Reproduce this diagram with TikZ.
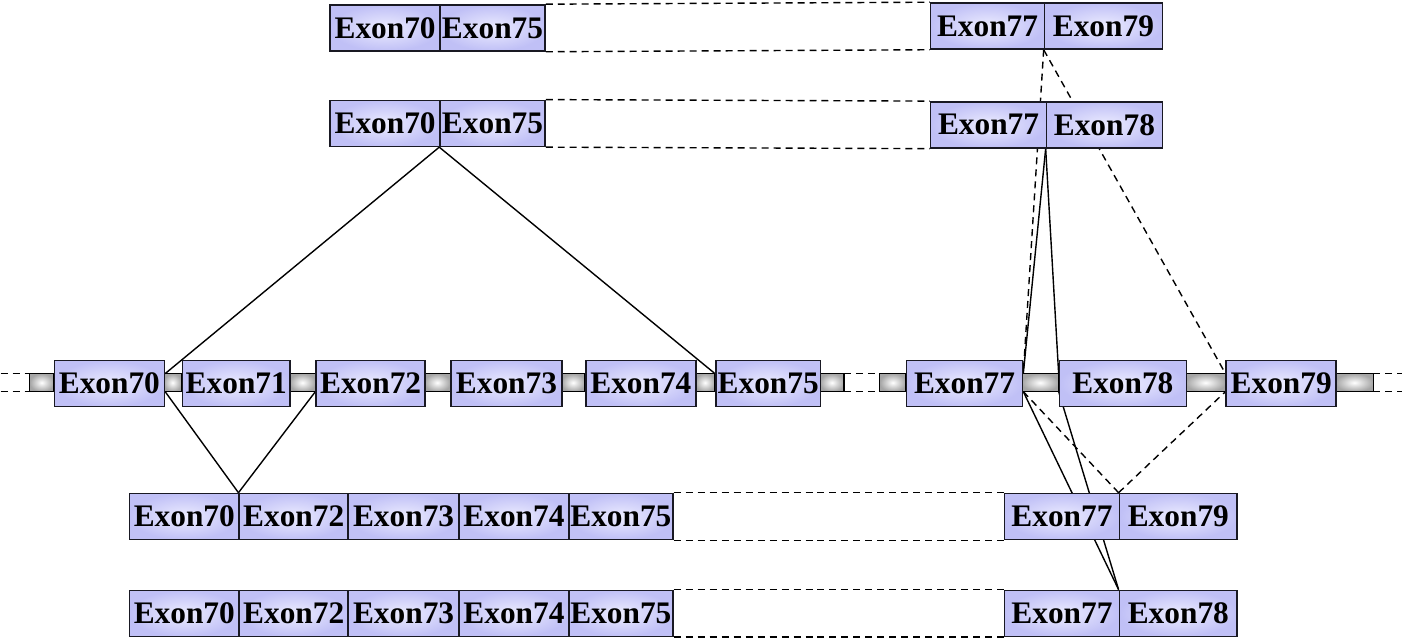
\documentclass[tikz,border=0pt]{standalone}
\usepackage{fontspec}
\setmainfont{Liberation Serif}
\usetikzlibrary{calc}
\definecolor{exonin}{RGB}{236,236,255}
\definecolor{exonout}{RGB}{192,192,246}
\definecolor{exonline}{RGB}{25,25,35}
\definecolor{barout}{RGB}{165,165,165}
\pgfdeclarelayer{strand}
\pgfdeclarelayer{links}
\pgfsetlayers{strand,links,main}
\tikzset{
  exon/.style={draw=exonline, line width=1.6bp, shade, inner color=exonin, outer color=exonout,
    minimum height=46bp, inner sep=0pt, anchor=west,
    font=\fontsize{31.5}{34}\selectfont\bfseries},
  barseg/.style={draw=black, line width=1.3bp, shade, inner color=white, outer color=barout},
  link/.style={draw=black, line width=1.4bp},
  dlink/.style={draw=black, line width=1.4bp, dash pattern=on 7bp off 5bp},
}
\begin{document}
\begin{tikzpicture}[x=1bp, y=-1bp]
\begin{pgfonlayer}{strand}
\useasboundingbox (0,0) rectangle (1403,641);
\fill[white] (0,0) rectangle (1403,641);
% intron bar segments between the exons
\foreach \a/\b in {29/53,163/181,289/315,424/450,561/585,695/715,820/844,
                   880/906,1022/1059,1186/1226,1336/1374}
  \path[barseg] (\a,374) rectangle (\b,392);
\end{pgfonlayer}

% bar edge levels
\coordinate (barT) at (0,374);
\coordinate (barB) at (0,392);

% open ends of the gene strands
\coordinate (l1) at (0,374);   \coordinate (l2) at (29,374);
\coordinate (l3) at (0,392);   \coordinate (l4) at (29,392);
\coordinate (m1) at (844,374); \coordinate (m2) at (880,374);
\coordinate (m3) at (844,392); \coordinate (m4) at (880,392);
\coordinate (r1) at (1374,374);\coordinate (r2) at (1403,374);
\coordinate (r3) at (1374,392);\coordinate (r4) at (1403,392);
\draw[dlink] (l1) -- (l2) (l3) -- (l4) (m1) -- (m2) (m3) -- (m4) (r1) -- (r2) (r3) -- (r4);

% gene row exons
\path
  node[exon, minimum width=110bp] (g70) at (53,384)   {Exon70}
  node[exon, minimum width=108bp] (g71) at (181,384)  {Exon71}
  node[exon, minimum width=109bp] (g72) at (315,384)  {Exon72}
  node[exon, minimum width=111bp] (g73) at (450,384)  {Exon73}
  node[exon, minimum width=110bp] (g74) at (585,384)  {Exon74}
  node[exon, minimum width=105bp] (g75) at (715,384)  {Exon75}
  node[exon, minimum width=116bp] (g77) at (906,384)  {Exon77}
  node[exon, minimum width=127bp] (g78) at (1059,384) {Exon78}
  node[exon, minimum width=110bp] (g79) at (1226,384) {Exon79};

% transcript rows
\path
  node[exon, minimum width=110bp] (a70) at (329,28)  {Exon70}
  node[exon, minimum width=105bp] (a75) at (439,28)  {Exon75}
  node[exon, minimum width=114bp] (b77) at (930,26)  {Exon77}
  node[exon, minimum width=118bp] (b79) at (1044,26) {Exon79}
  node[exon, minimum width=110bp] (c70) at (329,123.5) {Exon70}
  node[exon, minimum width=105bp] (c75) at (439,123.5) {Exon75}
  node[exon, minimum width=116bp] (d77) at (930,125) {Exon77}
  node[exon, minimum width=116bp] (d78) at (1046,125) {Exon78}
  node[exon, minimum width=110bp] (e70) at (128,517) {Exon70}
  node[exon, minimum width=109bp] (e72) at (238,517) {Exon72}
  node[exon, minimum width=111bp] (e73) at (347,517) {Exon73}
  node[exon, minimum width=110bp] (e74) at (458,517) {Exon74}
  node[exon, minimum width=104bp] (e75) at (568,517) {Exon75}
  node[exon, minimum width=115bp] (f77) at (1004,517) {Exon77}
  node[exon, minimum width=118bp] (f79) at (1119,517) {Exon79}
  node[exon, minimum width=110bp] (h70) at (128,614) {Exon70}
  node[exon, minimum width=109bp] (h72) at (238,614) {Exon72}
  node[exon, minimum width=111bp] (h73) at (347,614) {Exon73}
  node[exon, minimum width=110bp] (h74) at (458,614) {Exon74}
  node[exon, minimum width=104bp] (h75) at (568,614) {Exon75}
  node[exon, minimum width=115bp] (k77) at (1004,614) {Exon77}
  node[exon, minimum width=118bp] (k78) at (1119,614) {Exon78};

% splice connectors and continuation lines, behind the exon boxes
\begin{pgfonlayer}{links}
  % exon junctions of each transcript, tied to the gene strand
  \draw[link] (c75.south west) -- (g70.east |- barT);
  \draw[link] (c75.south west) -- (g75.west |- barT);
  \draw[link] (e72.north west) -- (g70.east |- barB);
  \draw[link] (e72.north west) -- (g72.west |- barB);
  \draw[link] (d78.south west) -- (g77.east |- barT);
  \draw[link] (d78.south west) -- (g78.west |- barT);
  \draw[link] (k78.north west) -- (g77.east |- barB);
  \draw[link] (k78.north west) -- (g78.west |- barB);
  \draw[dlink] (b79.south west) -- (g77.east |- barT);
  \draw[dlink] (b79.south west) -- (g79.west |- barT);
  \draw[dlink] (f79.north west) -- (g77.east |- barB);
  \draw[dlink] (f79.north west) -- (g79.west |- barB);
  % continuation between the two halves of each transcript
  \draw[dlink] (a75.north east) -- (b77.north west);
  \draw[dlink] (a75.south east) -- (b77.south west);
  \draw[dlink] (c75.north east) -- (d77.north west);
  \draw[dlink] (c75.south east) -- (d77.south west);
  \draw[dlink] (e75.north east) -- (f77.north west);
  \draw[dlink] (e75.south east) -- (f77.south west);
  \draw[dlink] (h75.north east) -- (k77.north west);
  \draw[dlink] (h75.south east) -- (k77.south west);
\end{pgfonlayer}
\end{tikzpicture}
\end{document}
